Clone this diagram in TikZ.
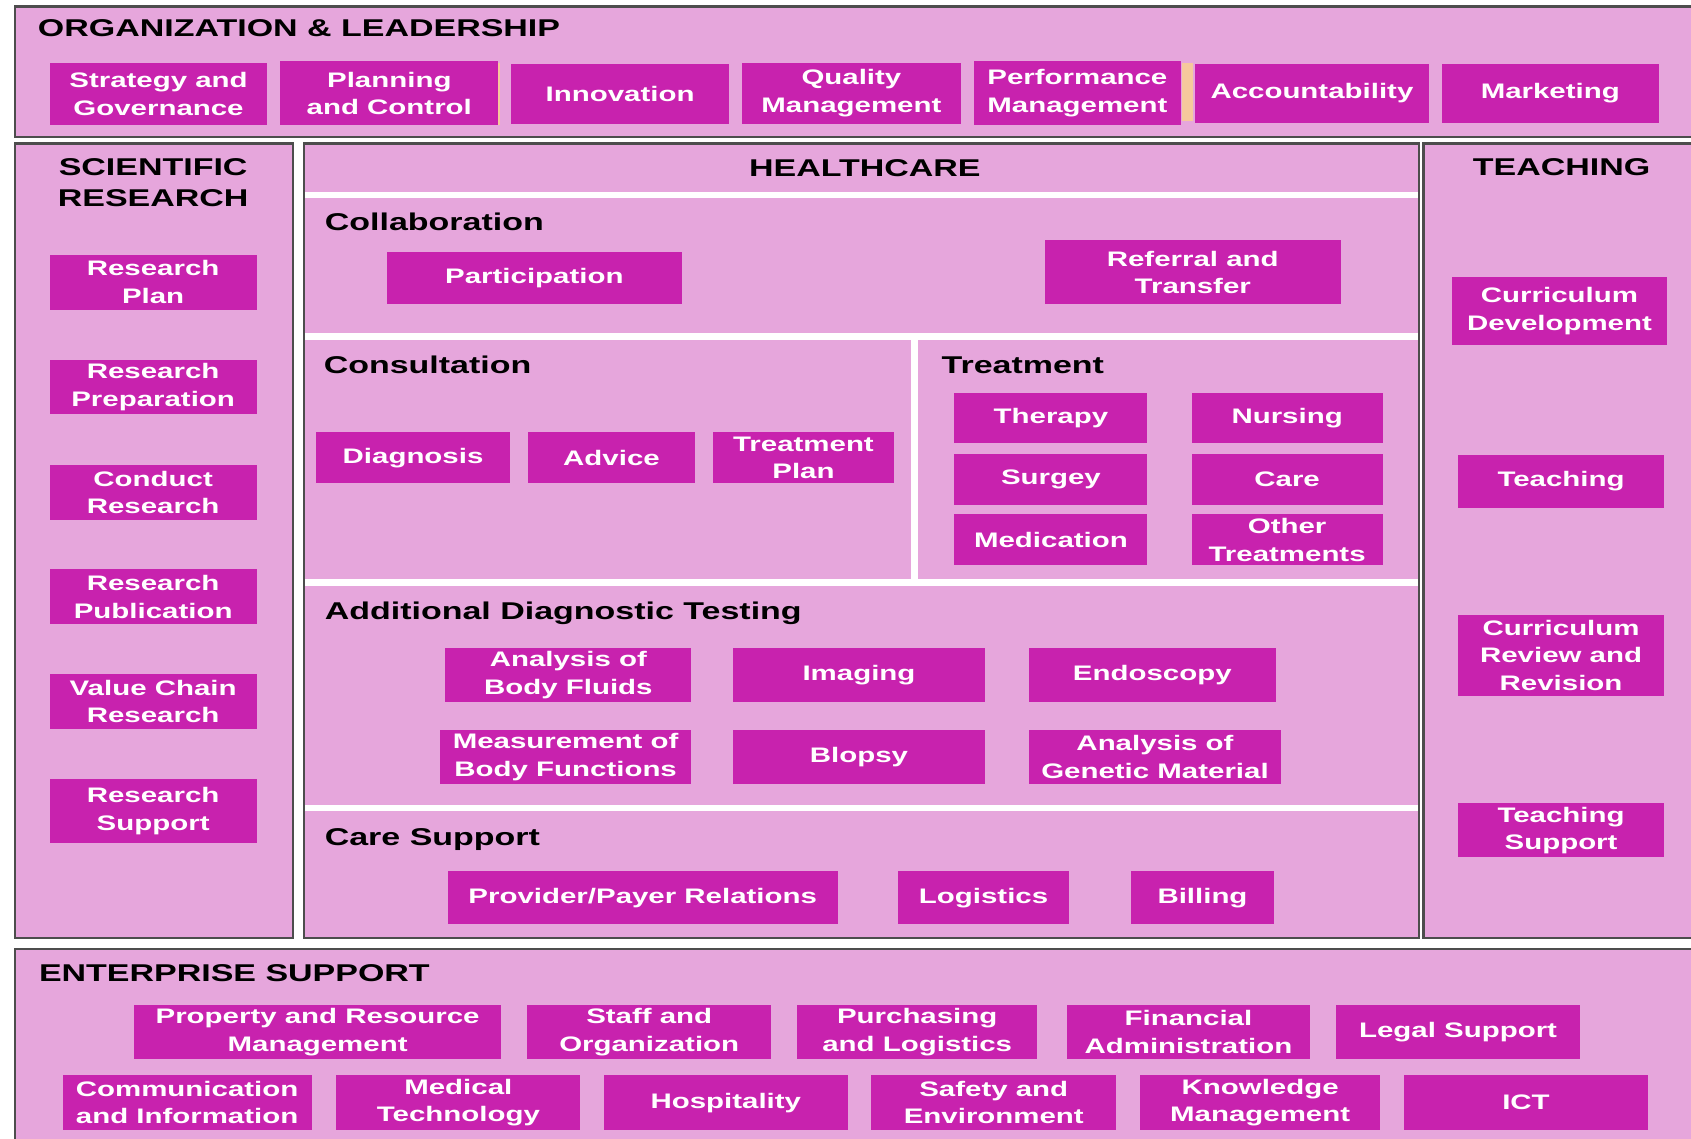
\documentclass[tikz,border=0pt]{standalone}
\usepackage{fontspec}
\setmainfont{Liberation Sans}[FakeStretch=1.4]
\usetikzlibrary{fit}

\definecolor{panelpink}{HTML}{E6A6DC}
\definecolor{cellmag}{HTML}{C822AE}
\definecolor{edgegray}{HTML}{4D4D4D}
\definecolor{peach}{HTML}{F6C89C}

\newcommand\cellfnt{\bfseries\fontsize{19.5}{25.5}\selectfont}
\newcommand\headfnt{\bfseries\fontsize{22.5}{29}\selectfont}

\tikzset{
  panel/.style={draw=edgegray, line width=2pt, fill=panelpink, inner sep=0pt},
  cell/.style={fill=cellmag, text=white, inner sep=0pt, align=center, font=\cellfnt},
  heading/.style={text=black, inner sep=0pt, align=center, font=\headfnt},
  divider/.style={white, line width=6pt},
}

% a magenta cell spanning the corners (x1,y1) and (x2,y2)
\newcommand\cellat[6]{%
  \node[cell, minimum width={#4-#2}, minimum height={#5-#3}]
    (#1) at ({(#2+#4)/2},{(#3+#5)/2}) {#6};}

\begin{document}
\begin{tikzpicture}[x=1pt,y=-1pt]
\useasboundingbox (0,0) rectangle (1568,1056);
\clip (0,0) rectangle (1568,1056);
\fill[white] (0,0) rectangle (1568,1056);

% ---------- panels ----------
\node[panel, fit={(14,6) (1600,127)}] (org) {};
\node[panel, fit={(14,133) (272,870)}] (sci) {};
\node[panel, fit={(282,133) (1316,870)}] (hc) {};
\node[panel, fit={(1320,133) (1600,870)}] (teach) {};
\node[panel, fit={(14,880) (1600,1090)}] (ent) {};

% ---------- organization & leadership ----------
\node[heading, anchor=base west] (orgT) at (35,34) {ORGANIZATION \& LEADERSHIP};
\fill[peach] (461.5,58) rectangle (464,116);
\fill[peach] (1096,58) rectangle (1106,112);
\cellat{strat}{46}{58}{248}{116}{Strategy and\\Governance}
\cellat{plan}{260}{57}{462}{116}{Planning\\and Control}
\cellat{innov}{474}{59}{676}{115}{Innovation}
\cellat{qual}{688}{58}{891}{115}{Quality\\Management}
\cellat{perf}{903}{57}{1095}{116}{Performance\\Management}
\cellat{acc}{1108}{59}{1325}{114}{Accountability}
\cellat{mkt}{1337}{59}{1538}{114}{Marketing}

% ---------- scientific research ----------
\node[heading] (sciT) at (142,169.5) {SCIENTIFIC\\RESEARCH};
\cellat{rplan}{46}{236}{238}{287}{Research\\Plan}
\cellat{rprep}{46}{334}{238}{384}{Research\\Preparation}
\cellat{rcond}{46}{431}{238}{482}{Conduct\\Research}
\cellat{rpub}{46}{528}{238}{579}{Research\\Publication}
\cellat{rval}{46}{625}{238}{676}{Value Chain\\Research}
\cellat{rsup}{46}{722}{238}{782}{Research\\Support}

% ---------- healthcare ----------
\node[heading] (hcT) at (802,156) {HEALTHCARE};
\draw[divider] (283,181) -- (1315,181);
\draw[divider] (283,312) -- (1315,312);
\draw[divider] (283,540) -- (1315,540);
\draw[divider] (283,749) -- (1315,749);
\draw[divider] (848,312) -- (848,540);

\node[heading, anchor=base west] (collT) at (301,214) {Collaboration};
\cellat{part}{359}{234}{632}{282}{Participation}
\cellat{refer}{969}{223}{1243}{282}{Referral and\\Transfer}

\node[heading, anchor=base west] (consT) at (300,346) {Consultation};
\cellat{diag}{293}{401}{473}{448}{Diagnosis}
\cellat{advice}{490}{401}{644}{448}{Advice}
\cellat{tplan}{661}{401}{829}{448}{Treatment\\Plan}

\node[heading, anchor=base west] (treatT) at (873,346) {Treatment};
\cellat{therapy}{885}{364}{1064}{411}{Therapy}
\cellat{nursing}{1105}{364}{1282}{411}{Nursing}
\cellat{surgey}{885}{421}{1064}{468}{Surgey}
\cellat{care}{1105}{421}{1282}{468}{Care}
\cellat{medic}{885}{477}{1064}{524}{Medication}
\cellat{other}{1105}{477}{1282}{524}{Other\\Treatments}

\node[heading, anchor=base west] (adtT) at (301,574) {Additional Diagnostic Testing};
\cellat{fluids}{413}{601}{641}{651}{Analysis of\\Body Fluids}
\cellat{imaging}{680}{601}{913}{651}{Imaging}
\cellat{endo}{954}{601}{1183}{651}{Endoscopy}
\cellat{measure}{408}{677}{641}{727}{Measurement of\\Body Functions}
\cellat{biopsy}{680}{677}{913}{727}{Blopsy}
\cellat{genetic}{954}{677}{1188}{727}{Analysis of\\Genetic Material}

\node[heading, anchor=base west] (csT) at (301,784) {Care Support};
\cellat{payer}{415}{808}{777}{857}{Provider/Payer Relations}
\cellat{logist}{833}{808}{991}{857}{Logistics}
\cellat{billing}{1049}{808}{1181}{857}{Billing}

% ---------- teaching ----------
\node[heading] (teachT) at (1448,155) {TEACHING};
\cellat{curdev}{1346}{257}{1546}{320}{Curriculum\\Development}
\cellat{teaching}{1352}{422}{1543}{471}{Teaching}
\cellat{currev}{1352}{570}{1543}{645}{Curriculum\\Review and\\Revision}
\cellat{tsup}{1352}{745}{1543}{795}{Teaching\\Support}

% ---------- enterprise support ----------
\node[heading, anchor=base west] (entT) at (36,910) {ENTERPRISE SUPPORT};
\cellat{property}{124}{932}{465}{982}{Property and Resource\\Management}
\cellat{staff}{489}{932}{715}{982}{Staff and\\Organization}
\cellat{purch}{739}{932}{962}{982}{Purchasing\\and Logistics}
\cellat{finance}{989}{932}{1215}{982}{Financial\\Administration}
\cellat{legal}{1239}{932}{1465}{982}{Legal Support}
\cellat{comm}{58}{997}{289}{1048}{Communication\\and Information}
\cellat{medtech}{312}{997}{538}{1048}{Medical\\Technology}
\cellat{hosp}{560}{997}{786}{1048}{Hospitality}
\cellat{safety}{808}{997}{1035}{1048}{Safety and\\Environment}
\cellat{knowl}{1057}{997}{1280}{1048}{Knowledge\\Management}
\cellat{ict}{1302}{997}{1528}{1048}{ICT}
\end{tikzpicture}
\end{document}
